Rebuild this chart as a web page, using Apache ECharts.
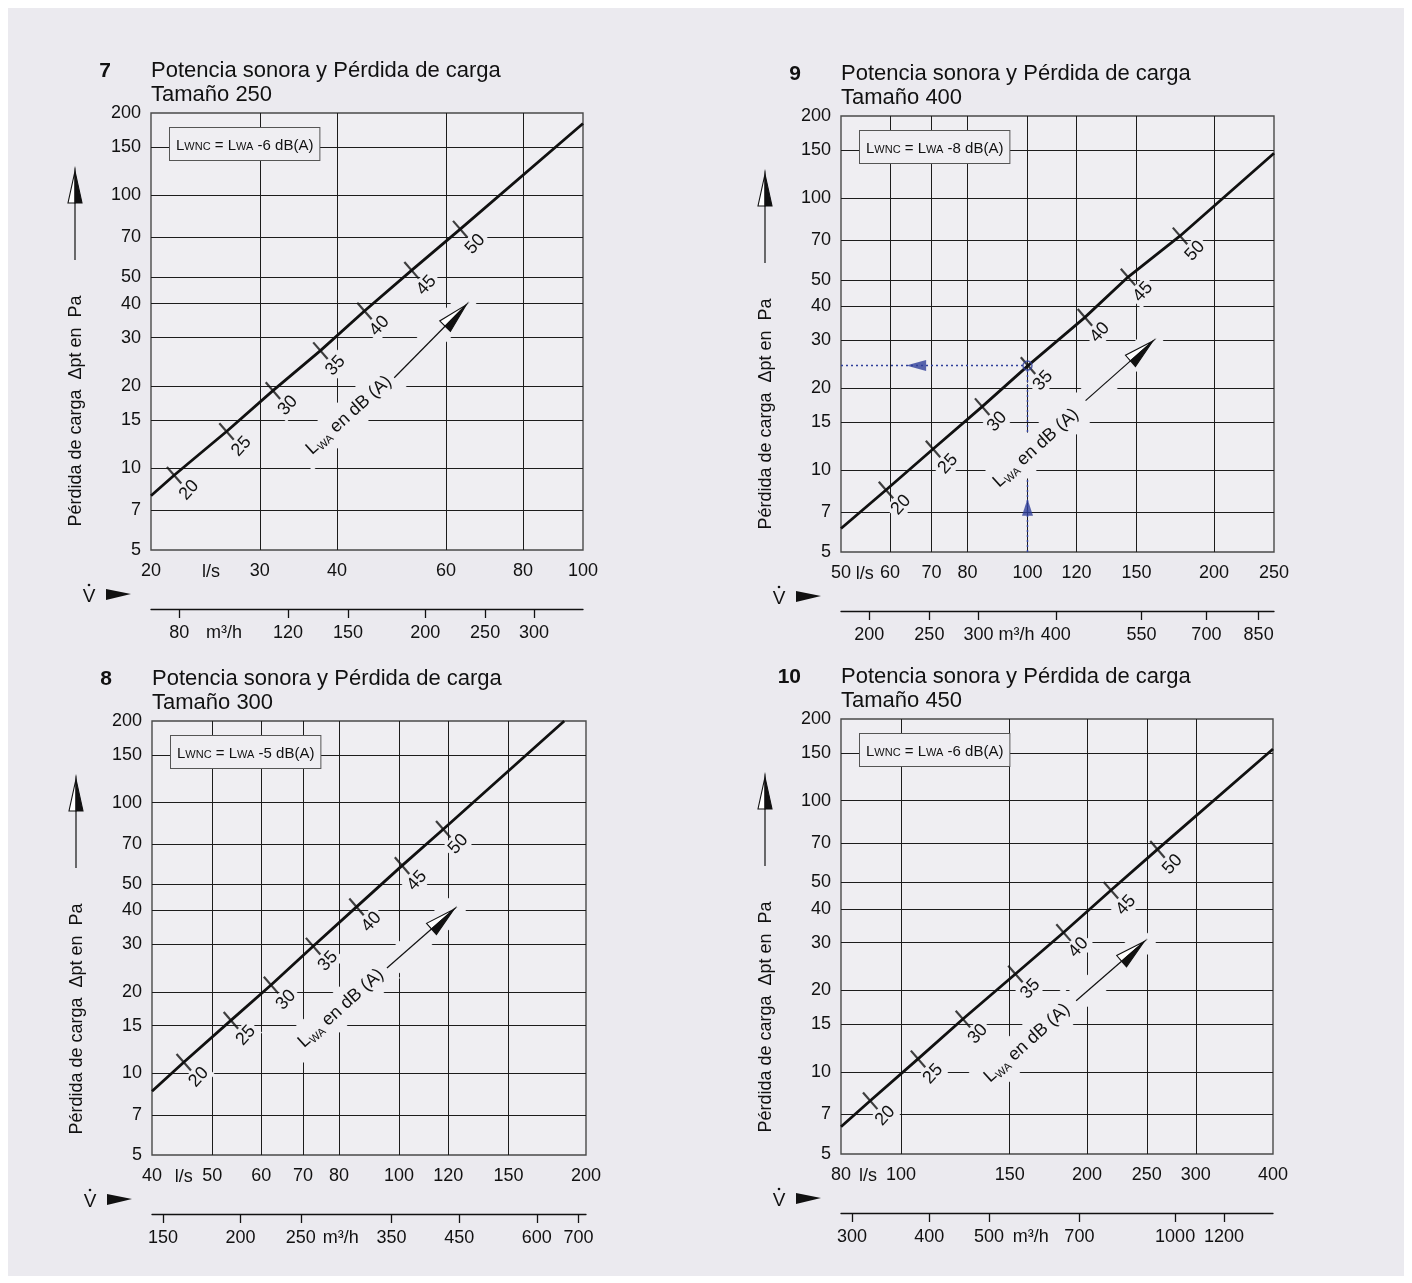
<!DOCTYPE html>
<html lang="es">
<head>
<meta charset="utf-8">
<title>Potencia sonora y Pérdida de carga</title>
<script src="https://cdn.jsdelivr.net/npm/echarts@6.0.0/dist/echarts.min.js"></script>
<style>
html, body { margin:0; padding:0; background:#ffffff; }
#frame { position:absolute; left:8px; top:8px; width:1396px; height:1268px; background:#ebeaef; }
#chart { position:absolute; left:0; top:0; width:1412px; height:1283px; }
</style>
</head>
<body>
<div id="frame"></div>
<div id="chart"></div>
<script>
// ---------------- DATA ----------------
const dbLevels = [20, 25, 30, 35, 40, 45, 50];
const pressureTicks = [5, 7, 10, 15, 20, 30, 40, 50, 70, 100, 150, 200];
const pressureGrid = [7, 10, 15, 20, 30, 40, 50, 70, 100, 150];

const panelNumbers = ['7', '9', '8', '10'];
const panelTitle = 'Potencia sonora y Pérdida de carga';
const panelSizes = ['Tamaño 250', 'Tamaño 400', 'Tamaño 300', 'Tamaño 450'];
const lwncCorrection = ['-6', '-8', '-5', '-6'];

const flowMin = [20, 50, 40, 80];
const flowMax = [100, 250, 200, 400];

const flowLabels250 = [20, 30, 40, 60, 80, 100];
const flowLabels400 = [50, 60, 70, 80, 100, 120, 150, 200, 250];
const flowLabels300 = [40, 50, 60, 70, 80, 100, 120, 150, 200];
const flowLabels450 = [80, 100, 150, 200, 250, 300, 400];

const flowGrid250 = [30, 40, 60, 80];
const flowGrid400 = [60, 70, 80, 100, 120, 150, 200];
const flowGrid300 = [50, 60, 70, 80, 100, 120, 150];
const flowGrid450 = [100, 150, 200, 250, 300];

const m3hLabels250 = [80, 120, 150, 200, 250, 300];
const m3hLabels400 = [200, 250, 300, 400, 550, 700, 850];
const m3hLabels300 = [150, 200, 250, 350, 450, 600, 700];
const m3hLabels450 = [300, 400, 500, 700, 1000, 1200];

// curve end points [l/s, Pa]
const curveEnds250 = [[20, 7.9], [100, 183]];
const curveEnds400 = [[50, 6.1], [250, 146]];
const curveEnds300 = [[40, 8.6], [184.5, 200]];
const curveEnds450 = [[80, 6.3], [400, 155]];

// LWA marks on the curve (l/s, Pa)
const markFlow250 = [21.8, 26.5, 31.5, 37.6, 44.3, 52.8, 63.3];
const markDp250   = [9.4, 13.6, 19.2, 26.9, 37.6, 53.0, 75.0];
const markFlow400 = [59.1, 70.4, 84.5, 100.2, 123.8, 145.3, 176.3];
const markDp400   = [8.45, 11.95, 17.1, 24.2, 36.4, 51.2, 72.5];
const markFlow300 = [45.0, 53.6, 62.2, 72.7, 85.4, 101.1, 117.8];
const markDp300   = [11.0, 15.7, 21.2, 29.5, 41.2, 58.5, 79.7];
const markFlow450 = [89.2, 106.6, 126.0, 153.2, 183.3, 218.7, 260.1];
const markDp450   = [7.85, 11.2, 15.7, 23.0, 32.7, 46.8, 66.2];

// worked example in size 400
const exampleFlow = 100;
const exampleDp = 24.2;

const M3H_PER_LS = 3.6;

// ---------------- LAYOUT (positions / styles) ----------------
const FONT = '"Liberation Sans", Arial, Helvetica, sans-serif';
const PLOT_BG = '#efeef2';
const INK = '#111111';
const BLUE = '#2f3f9a';
const gridRect = [
  { left: 151, top: 113, width: 432, height: 437 },
  { left: 841, top: 116, width: 433, height: 436 },
  { left: 152, top: 721, width: 434, height: 434 },
  { left: 841, top: 719, width: 432, height: 435 }
];
// anchors (data space) of annotation texts
const lsLabelAt = [25, 54.6, 45, 88.5];
const m3hLabelAt = [94.5, 345.5, 290, 584];
const lwaTextAt = [[41.8, 15.6], [103.2, 12.06], [80.6, 17.4], [160, 12.8]];
const lwaArrowTail = [[49.5, 21.4], [124.1, 18.0], [95.6, 24.5], [192.1, 18.35]];
const lwaArrowTip = [[64.7, 39.6], [159.4, 29.8], [122.6, 40.4], [247.6, 30.3]];
const exampleArrowUp = [exampleFlow, 7.3];
const exampleArrowLeft = [66.1, exampleDp];

const panels = [
  { labels: flowLabels250, grid: flowGrid250, m3h: m3hLabels250, ends: curveEnds250, mf: markFlow250, md: markDp250 },
  { labels: flowLabels400, grid: flowGrid400, m3h: m3hLabels400, ends: curveEnds400, mf: markFlow400, md: markDp400 },
  { labels: flowLabels300, grid: flowGrid300, m3h: m3hLabels300, ends: curveEnds300, mf: markFlow300, md: markDp300 },
  { labels: flowLabels450, grid: flowGrid450, m3h: m3hLabels450, ends: curveEnds450, mf: markFlow450, md: markDp450 }
];

const fmt = v => String(Math.round(v * 100) / 100);

const grids = [], xAxes = [], yAxes = [], series = [];
panels.forEach((p, i) => {
  const r = gridRect[i];
  grids.push({ left: r.left, top: r.top, width: r.width, height: r.height, show: true,
    backgroundColor: PLOT_BG, borderColor: '#4a4a4a', borderWidth: 1.4, containLabel: false });
  xAxes.push({
    type: 'log', logBase: 10, gridIndex: i, min: flowMin[i], max: flowMax[i], position: 'bottom',
    axisLine: { show: false },
    axisTick: { show: false, customValues: p.grid },
    splitLine: { show: true, lineStyle: { color: '#1c1c1c', width: 1 } },
    axisLabel: { customValues: p.labels, formatter: fmt, margin: 12, color: INK, fontSize: 18, fontFamily: FONT }
  });
  xAxes.push({
    type: 'log', logBase: 10, gridIndex: i, min: flowMin[i] * M3H_PER_LS, max: flowMax[i] * M3H_PER_LS,
    position: 'bottom', offset: 59,
    axisLine: { show: true, lineStyle: { color: INK, width: 1.3 } },
    axisTick: { show: true, length: 9, customValues: p.m3h, lineStyle: { color: INK, width: 1.3 } },
    splitLine: { show: false },
    axisLabel: { customValues: p.m3h, formatter: fmt, margin: 15, color: INK, fontSize: 18, fontFamily: FONT }
  });
  yAxes.push({
    type: 'log', logBase: 10, gridIndex: i, min: 5, max: 200,
    axisLine: { show: false },
    axisTick: { show: false, customValues: pressureGrid },
    splitLine: { show: true, lineStyle: { color: '#1c1c1c', width: 1 } },
    axisLabel: { customValues: pressureTicks, formatter: fmt, margin: 10, color: INK, fontSize: 18, fontFamily: FONT }
  });
  const marks = p.mf.map((f, k) => [f, p.md[k]]);
  series.push({
    type: 'line', xAxisIndex: 2 * i, yAxisIndex: i, data: [p.ends[0], ...marks, p.ends[1]],
    symbol: 'none', lineStyle: { color: INK, width: 2.8, join: 'round' }, z: 3, silent: true, clip: true
  });
  series.push({
    type: 'scatter', xAxisIndex: 2 * i, yAxisIndex: i, data: marks,
    symbol: 'rect', symbolSize: [2.2, 22], symbolRotate: 41, itemStyle: { color: INK }, z: 3, silent: true
  });
});

// worked example in panel "9" (index 1)
series.push({
  type: 'line', xAxisIndex: 2, yAxisIndex: 1, data: [[flowMin[1], exampleDp], [exampleFlow, exampleDp]],
  symbol: 'none', lineStyle: { color: BLUE, width: 1.5, type: [2, 3] }, z: 2, silent: true
});
series.push({
  type: 'line', xAxisIndex: 2, yAxisIndex: 1, data: [[exampleFlow, 5], [exampleFlow, exampleDp]],
  symbol: 'none', lineStyle: { color: BLUE, width: 1.5, type: [2, 3] }, z: 2, silent: true
});
series.push({
  type: 'scatter', xAxisIndex: 2, yAxisIndex: 1, data: [[exampleFlow, exampleDp]],
  symbol: 'circle', symbolSize: 9, itemStyle: { color: 'rgba(0,0,0,0)', borderColor: BLUE, borderWidth: 1.5 }, z: 4, silent: true
});
series.push({
  type: 'scatter', xAxisIndex: 2, yAxisIndex: 1, data: [exampleArrowUp],
  symbol: 'triangle', symbolSize: [11, 17], itemStyle: { color: BLUE }, z: 4, silent: true
});
series.push({
  type: 'scatter', xAxisIndex: 2, yAxisIndex: 1, data: [exampleArrowLeft],
  symbol: 'triangle', symbolSize: [11, 20], symbolRotate: 90, itemStyle: { color: BLUE }, z: 4, silent: true
});

const chart = echarts.init(document.getElementById('chart'), null, { renderer: 'canvas' });
chart.setOption({
  animation: false,
  backgroundColor: 'transparent',
  textStyle: { fontFamily: FONT },
  grid: grids, xAxis: xAxes, yAxis: yAxes, series: series
});

// ---------------- ANNOTATIONS ----------------
const G = [];
function txt(x, y, str, style, extra) {
  G.push(Object.assign({ type: 'text', x: x, y: y, z: 5, silent: true,
    style: Object.assign({ text: str, fill: INK, fontFamily: FONT, fontSize: 18, align: 'center', verticalAlign: 'middle' }, style || {})
  }, extra || {}));
}
function arrow(tip, tail, headLen, headW, z) {
  const dx = tip[0] - tail[0], dy = tip[1] - tail[1];
  const L = Math.hypot(dx, dy);
  const d = [dx / L, dy / L];
  const B = [tip[0] - d[0] * headLen, tip[1] - d[1] * headLen];
  const p1 = [d[1], -d[0]], p2 = [-d[1], d[0]];
  const w = headW / 2;
  G.push({ type: 'line', z: z, silent: true, shape: { x1: tail[0], y1: tail[1], x2: B[0], y2: B[1] },
    style: { stroke: INK, lineWidth: 1.2 } });
  G.push({ type: 'polygon', z: z, silent: true,
    shape: { points: [tip, [B[0] + p1[0] * w, B[1] + p1[1] * w], B] },
    style: { fill: '#ffffff', stroke: INK, lineWidth: 1.1 } });
  G.push({ type: 'polygon', z: z, silent: true,
    shape: { points: [tip, [B[0] + p2[0] * w, B[1] + p2[1] * w], B] },
    style: { fill: INK, stroke: INK, lineWidth: 1.1 } });
}

panels.forEach((p, i) => {
  const r = gridRect[i];
  const px = (x, y) => chart.convertToPixel({ xAxisIndex: 2 * i, yAxisIndex: i }, [x, y]);
  const bottom = r.top + r.height;

  // headings
  txt(r.left - 40, r.top - 42, panelNumbers[i], { align: 'right', fontSize: 21, fontWeight: 'bold' });
  txt(r.left, r.top - 42, panelTitle, { align: 'left', fontSize: 22 });
  txt(r.left, r.top - 18, panelSizes[i], { align: 'left', fontSize: 22 });

  // LWNC box
  G.push({ type: 'text', x: r.left + 19, y: r.top + 15, z: 6, silent: true,
    style: {
      text: '{a|L}{b|WNC}{a| = L}{b|WA}{a| ' + lwncCorrection[i] + ' dB(A)}',
      align: 'left', verticalAlign: 'top',
      backgroundColor: PLOT_BG, borderColor: '#555', borderWidth: 1, padding: [8, 6, 7, 6],
      rich: {
        a: { fontSize: 15, fontFamily: FONT, fill: INK, lineHeight: 17, verticalAlign: 'bottom' },
        b: { fontSize: 11, fontFamily: FONT, fill: INK, lineHeight: 17, verticalAlign: 'bottom', padding: [0, 0, 1, 0] }
      }
    } });

  // y axis title and arrow
  txt(r.left - 75, r.top + 298, 'Pérdida de carga  Δpt en  Pa', { fontSize: 18 }, { rotation: Math.PI / 2 });
  const ax = r.left - 76;
  arrow([ax, r.top + 58], [ax, r.top + 147], 32, 14, 5);

  // V-dot arrow
  const vy = bottom + 45;
  txt(r.left - 62, vy + 2, 'V', { fontSize: 19 });
  G.push({ type: 'circle', z: 5, silent: true, shape: { cx: r.left - 62, cy: vy - 10, r: 1.3 }, style: { fill: INK } });
  G.push({ type: 'polygon', z: 5, silent: true,
    shape: { points: [[r.left - 45, vy - 6], [r.left - 20, vy - 1], [r.left - 45, vy + 5]] }, style: { fill: INK } });

  // unit labels
  txt(chart.convertToPixel({ xAxisIndex: 2 * i }, lsLabelAt[i]), bottom + 22, 'l/s');
  txt(chart.convertToPixel({ xAxisIndex: 2 * i + 1 }, m3hLabelAt[i]), bottom + 59 + 24, 'm³/h');

  // dB labels next to the marks
  p.mf.forEach((f, k) => {
    const c = px(f, p.md[k]);
    txt(c[0] + 15, c[1] + 15, String(dbLevels[k]),
      { backgroundColor: PLOT_BG, padding: [1, 3] },
      { rotation: 48 * Math.PI / 180, z: 1 });
  });

  // LWA direction arrow with knockout
  const tip = px(lwaArrowTip[i][0], lwaArrowTip[i][1]);
  const tail = px(lwaArrowTail[i][0], lwaArrowTail[i][1]);
  const dx = tip[0] - tail[0], dy = tip[1] - tail[1], L = Math.hypot(dx, dy);
  G.push({ type: 'line', z: 1, silent: true,
    shape: { x1: tail[0] - dx / L * 6, y1: tail[1] - dy / L * 6, x2: tip[0] + dx / L * 8, y2: tip[1] + dy / L * 8 },
    style: { stroke: PLOT_BG, lineWidth: 24 } });
  arrow(tip, tail, 30, 15, 5);

  // LWA text
  const lc = px(lwaTextAt[i][0], lwaTextAt[i][1]);
  G.push({ type: 'text', x: lc[0], y: lc[1], z: 3, silent: true, rotation: 42 * Math.PI / 180,
    style: {
      text: '{a|L}{b|WA}{a| en dB (A)}', align: 'center', verticalAlign: 'middle',
      backgroundColor: PLOT_BG, padding: [6, 10],
      rich: {
        a: { fontSize: 18, fontFamily: FONT, fill: INK, lineHeight: 22 },
        b: { fontSize: 11, fontFamily: FONT, fill: INK, lineHeight: 22, padding: [10, 0, 0, 0] }
      }
    } });
});

chart.setOption({ graphic: G });
</script>
</body>
</html>
